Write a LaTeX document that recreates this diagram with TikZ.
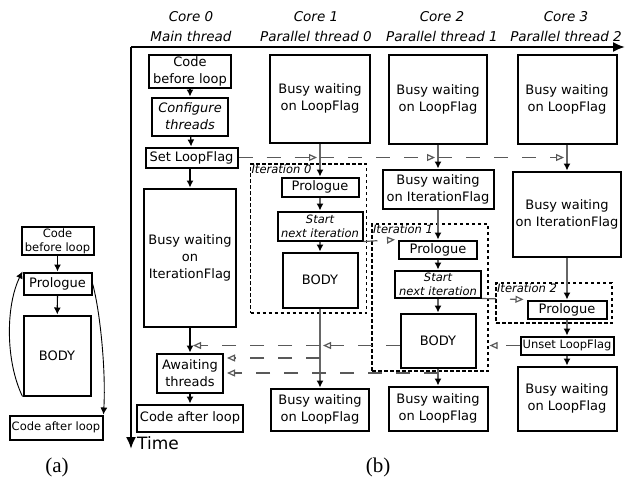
\documentclass[tikz,border=0pt]{standalone}
\usepackage{fontspec}
\setmainfont{DejaVu Sans}
\newfontfamily\legende{Liberation Serif}
\usetikzlibrary{arrows.meta}

\begin{document}
\begin{tikzpicture}[x=1pt,y=-1pt]
\tikzset{boite/.style={draw, line width=2pt, align=center, inner sep=1pt, font=\fontsize{13}{17}\selectfont},
  petiteboite/.style={boite, font=\fontsize{11.5}{14.3}\selectfont},
  cadre/.style={draw, line width=1.2pt, dash pattern=on 3.5pt off 2.5pt, minimum width=116pt},
  titrecadre/.style={anchor=north west, inner sep=1.5pt, font=\fontsize{11.5}{13}\selectfont\itshape},
  entete/.style={align=center, font=\fontsize{13.5}{20}\selectfont\itshape},
  fil/.style={line width=1.2pt, -{Latex[length=7pt,width=7pt]}},
  filgris/.style={line width=1.2pt, draw=black!60, -{Latex[length=7pt,width=7pt,color=black]}},
  signal/.style={line width=1.2pt, draw=black!65, dash pattern=on 14pt off 14pt, shorten >=3pt, -{Triangle[open,length=8pt,width=7pt]}}}
\useasboundingbox (0,0) rectangle (626,483);

\node[entete] (H0) at (191,27) {Core 0\\Main thread};
\node[entete] (H1) at (316,27) {Core 1\\Parallel thread 0};
\node[entete] (H2) at (442,27) {Core 2\\Parallel thread 1};
\node[entete] (H3) at (566,27) {Core 3\\Parallel thread 2};
\coordinate (O) at (131,47);
\coordinate (Ox) at (625,47);
\coordinate (Oy) at (131,449);
\draw[line width=2pt, -{Latex[length=12pt,width=10pt]}] (O) -- (Ox);
\draw[line width=2pt, -{Latex[length=12pt,width=10pt]}] (O) -- (Oy);
\node[anchor=west, inner sep=0, font=\fontsize{17}{20}\selectfont] (Tps) at (137,443) {Time};

\node[petiteboite, minimum width=72pt, minimum height=27pt] (A1) at (57.5,241) {Code\\before loop};
\node[boite, minimum width=68pt, minimum height=22pt] (A2) at (57.5,283.5) {Prologue};
\node[boite, minimum width=67pt, minimum height=80pt] (A3) at (57,355.5) {BODY};
\node[petiteboite, minimum width=93pt, minimum height=24pt] (A4) at (56,427.5) {Code after loop};
\draw[fil] (A1) -- (A2);
\draw[fil] (A2) -- (A3);
\draw[fil, line width=0.9pt] (A3.south west) .. controls (5,360) and (6,305) .. (A2.north west);
\draw[fil, line width=0.9pt] (A2.east) .. controls (100,310) and (106,370) .. (A4.north east);

\node[boite, minimum width=82pt, minimum height=33pt] (M1) at (190,71) {Code\\before loop};
\node[boite, minimum width=76pt, minimum height=38pt, font=\fontsize{13}{17}\selectfont\itshape] (M2) at (190,116.5) {Configure\\threads};
\node[boite, minimum width=92pt, minimum height=20pt] (M3) at (191.5,157.5) {Set LoopFlag};
\node[boite, minimum width=92pt, minimum height=138pt] (M4) at (190,257.5) {Busy waiting\\on\\IterationFlag};
\node[boite, minimum width=66pt, minimum height=39pt] (M5) at (190,373) {Awaiting\\threads};
\node[boite, minimum width=106pt, minimum height=27pt] (M6) at (190,418) {Code after loop};
\draw[fil] (M1) -- (M2);
\draw[fil] (M2) -- (M3);
\draw[fil] (M3.south -| M4) -- (M4);
\draw[fil] (M4) -- (M5);
\draw[fil] (M5) -- (M6);

\node[boite, minimum width=100pt, minimum height=88pt] (W1) at (320,98.5) {Busy waiting\\on LoopFlag};
\node[cadre, minimum height=149pt] (I0) at (308.5,238.5) {};
\node[titrecadre] (T0) at (I0.north west) {Iteration 0};
\node[boite, minimum width=77pt, minimum height=19pt] (P1) at (320,187) {Prologue};
\node[petiteboite, minimum width=85pt, minimum height=29pt, font=\fontsize{11.5}{14.3}\selectfont\itshape] (S1) at (320,226) {Start\\next iteration};
\node[boite, minimum width=75pt, minimum height=55pt] (B1) at (320,280) {BODY};
\node[boite, minimum width=98pt, minimum height=42pt] (E1) at (320,409.5) {Busy waiting\\on LoopFlag};
\draw[filgris] (W1) -- (P1);
\draw[filgris] (P1) -- (S1);
\draw[filgris] (S1) -- (B1);
\draw[filgris] (B1) -- (E1);

\node[boite, minimum width=98pt, minimum height=89pt] (W2) at (438,99) {Busy waiting\\on LoopFlag};
\node[boite, minimum width=111pt, minimum height=39pt] (F2) at (438,189) {Busy waiting\\on IterationFlag};
\node[cadre, minimum height=147pt] (I1) at (430,297.5) {};
\node[titrecadre] (T1) at (I1.north west) {Iteration 1};
\node[boite, minimum width=78pt, minimum height=18pt] (P2) at (438,249.5) {Prologue};
\node[petiteboite, minimum width=86pt, minimum height=27pt, font=\fontsize{11.5}{14.3}\selectfont\itshape] (S2) at (438,284) {Start\\next iteration};
\node[boite, minimum width=75pt, minimum height=54pt] (B2) at (438,340.5) {BODY};
\node[boite, minimum width=99pt, minimum height=44pt] (E2) at (438,408.5) {Busy waiting\\on LoopFlag};
\draw[filgris] (W2) -- (F2);
\draw[filgris] (F2) -- (P2);
\draw[filgris] (P2) -- (S2);
\draw[filgris] (S2) -- (B2);
\draw[filgris] (B2) -- (E2);

\node[boite, minimum width=99pt, minimum height=89pt] (W3) at (567,99) {Busy waiting\\on LoopFlag};
\node[boite, minimum width=108pt, minimum height=85pt] (F3) at (567,214) {Busy waiting\\on IterationFlag};
\node[cadre, minimum height=40pt] (I2) at (554,303) {};
\node[titrecadre] (T2) at (I2.north west) {Iteration 2};
\node[boite, minimum width=79pt, minimum height=18pt] (P3) at (567,309.5) {Prologue};
\node[petiteboite, minimum width=93pt, minimum height=18pt] (U3) at (567,345.5) {Unset LoopFlag};
\node[boite, minimum width=99pt, minimum height=64pt] (E3) at (567,398.5) {Busy waiting\\on LoopFlag};
\draw[filgris] (W3) -- (F3);
\draw[filgris] (F3) -- (P3);
\draw[filgris] (P3) -- (U3);
\draw[filgris] (U3) -- (E3);

\coordinate (L1) at (W1 |- M3);
\coordinate (L2) at (W2 |- M3);
\coordinate (L3) at (W3 |- M3);
\draw[signal] (M3.east) -- (L1);
\draw[signal] (L1) -- (L2);
\draw[signal] (L2) -- (L3);
\draw[signal] (S1.south east) -- (P2.north west);
\draw[signal] (S2.south east) -- (P3.north west);
\coordinate (U2) at (I1.east |- U3.west);
\coordinate (U1) at (W1 |- U3.west);
\coordinate (U0) at (M4 |- U3.west);
\draw[signal, shorten >=1pt] (U3.west) -- (U2);
\draw[signal] (B2.west |- U3.west) -- (U1);
\draw[signal] (U1) -- (U0);
\coordinate (R1) at (320,358);
\coordinate (R2) at (438,373);
\draw[signal] (R1) -- (R1 -| M5.east);
\draw[signal] (R2) -- (R2 -| M5.east);

\node[font=\legende\fontsize{21}{24}\selectfont] (La) at (57,467) {(a)};
\node[font=\legende\fontsize{21}{24}\selectfont] (Lb) at (378,467) {(b)};
\end{tikzpicture}
\end{document}
